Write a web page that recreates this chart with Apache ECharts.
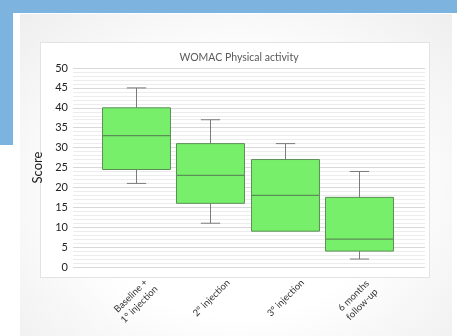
<!DOCTYPE html>
<html>
<head>
<meta charset="utf-8">
<script src="https://cdn.jsdelivr.net/npm/echarts@6/dist/echarts.min.js"></script>
<style>
  html, body { margin: 0; padding: 0; width: 457px; height: 336px; overflow: hidden; background: #fff; }
  .band-top { position: absolute; left: 0; top: 0; width: 457px; height: 13px; background: #7db3df; }
  .band-left { position: absolute; left: 0; top: 0; width: 13px; height: 145px; background: #7db3df; }
  .panel { position: absolute; left: 20px; top: 14px; width: 432px; height: 322px;
           background: radial-gradient(ellipse at 50% 55%, #ffffff 50%, #eeeeee 100%); }
  .card { position: absolute; left: 40px; top: 42px; width: 388px; height: 234px;
          background: #fff; border: 1px solid #e3e3e3; }
  #chart { position: absolute; left: 0; top: 0; width: 457px; height: 336px; }
</style>
</head>
<body>
<div class="band-top"></div>
<div class="band-left"></div>
<div class="panel"></div>
<div class="card"></div>
<div id="chart"></div>
<script>
// WOMAC physical activity scores per time point (box-and-whisker summary)
const categories = ['Baseline +\n1° injection', '2° injection', '3° injection', '6 months\nfollow-up'];
const minimum       = [21, 11, 9, 2];
const lowerQuartile = [24.5, 16, 9, 4];
const median        = [33, 23, 18, 7];
const upperQuartile = [40, 31, 27, 17.5];
const maximum       = [45, 37, 31, 24];

const yTicks = { min: 0, max: 50, step: 5 };

const boxData = categories.map((c, i) => [i, minimum[i], lowerQuartile[i], median[i], upperQuartile[i], maximum[i]]);

const FONT = 'Lato, "Open Sans", sans-serif';

function renderBox(params, api) {
  const i = api.value(0);
  const pMin = api.coord([i, api.value(1)]);
  const pQ1 = api.coord([i, api.value(2)]);
  const pMed = api.coord([i, api.value(3)]);
  const pQ3 = api.coord([i, api.value(4)]);
  const pMax = api.coord([i, api.value(5)]);
  const band = api.size([1, 0])[0];
  const bw = band * 0.915;
  const cw = band * 0.26;
  const cx = Math.round(pMed[0]) + 0.5;
  const whisker = { stroke: '#7a7a7a', lineWidth: 1 };
  const edge = '#5c8f57';
  const children = [];
  // upper whisker and cap
  if (api.value(5) > api.value(4)) {
    children.push({ type: 'line', shape: { x1: cx, y1: pMax[1], x2: cx, y2: pQ3[1] }, style: whisker });
    children.push({ type: 'line', shape: { x1: cx - cw / 2, y1: pMax[1], x2: cx + cw / 2, y2: pMax[1] }, style: whisker });
  }
  // lower whisker and cap
  if (api.value(1) < api.value(2)) {
    children.push({ type: 'line', shape: { x1: cx, y1: pQ1[1], x2: cx, y2: pMin[1] }, style: whisker });
    children.push({ type: 'line', shape: { x1: cx - cw / 2, y1: pMin[1], x2: cx + cw / 2, y2: pMin[1] }, style: whisker });
  }
  // interquartile box
  children.push({
    type: 'rect',
    shape: { x: cx - bw / 2, y: pQ3[1], width: bw, height: pQ1[1] - pQ3[1] },
    style: { fill: '#78ef6b', stroke: edge, lineWidth: 1 }
  });
  // median
  children.push({ type: 'line', shape: { x1: cx - bw / 2, y1: pMed[1], x2: cx + bw / 2, y2: pMed[1] },
    style: { stroke: edge, lineWidth: 1.2 } });
  return { type: 'group', children };
}

const chart = echarts.init(document.getElementById('chart'), null, { renderer: 'canvas' });
chart.setOption({
  animation: false,
  backgroundColor: 'transparent',
  title: {
    text: 'WOMAC Physical activity',
    left: 234, top: 47, textAlign: 'center',
    textStyle: { fontFamily: FONT, fontSize: 10.5, fontWeight: 'normal', color: '#595959' }
  },
  grid: [
    { left: 73, right: 32, top: 68, bottom: 69 },
    { left: 99, right: 61, top: 68, bottom: 69 },
    { left: 117, right: 43, top: 68, bottom: 69 }
  ],
  xAxis: [
    { gridIndex: 0, type: 'value', min: 0, max: 1, show: false },
    { gridIndex: 1, type: 'category', data: categories, show: false },
    {
      gridIndex: 2, type: 'category', data: categories,
      axisLine: { show: false }, axisTick: { show: false },
      axisLabel: {
        rotate: 45, margin: 14, interval: 0, color: '#333', fontFamily: FONT, fontSize: 9.5,
        formatter: v => v.indexOf('\n') < 0 ? v : v.split('\n').map(s => '{c|' + s + '}').join('\n'),
        rich: { c: { width: 54, align: 'center', fontFamily: FONT, fontSize: 9.5, color: '#333', lineHeight: 12 } }
      }
    }
  ],
  yAxis: [
    {
      gridIndex: 0, type: 'value', min: yTicks.min, max: yTicks.max, interval: yTicks.step,
      name: 'Score', nameLocation: 'middle', nameGap: 22, nameRotate: 90,
      nameTextStyle: { fontFamily: FONT, fontSize: 13, color: '#222' },
      axisLine: { show: false }, axisTick: { show: false },
      axisLabel: { margin: 5, color: '#222', fontFamily: FONT, fontSize: 11 },
      splitLine: { lineStyle: { color: '#d8d8d8', width: 1 } },
      minorTick: { show: false, splitNumber: 5 },
      minorSplitLine: { show: true, lineStyle: { color: '#ececec', width: 1 } }
    },
    { gridIndex: 1, type: 'value', min: yTicks.min, max: yTicks.max, show: false },
    { gridIndex: 2, type: 'value', min: yTicks.min, max: yTicks.max, show: false }
  ],
  series: [{
    type: 'custom',
    xAxisIndex: 1, yAxisIndex: 1,
    data: boxData,
    renderItem: renderBox,
    encode: { x: 0, y: [1, 2, 3, 4, 5] }
  }]
});
</script>
</body>
</html>
